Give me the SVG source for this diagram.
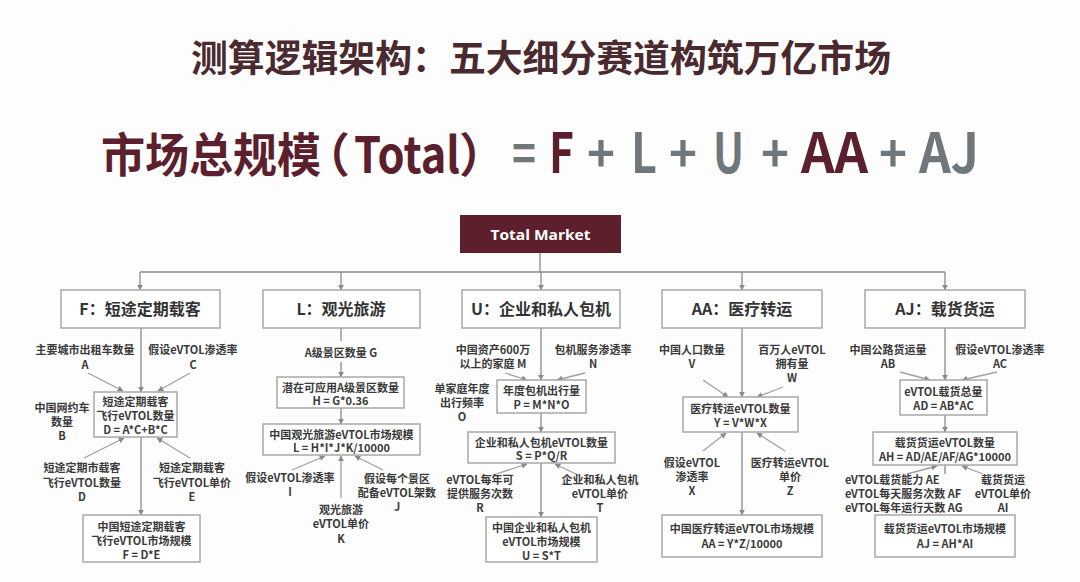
<svg xmlns="http://www.w3.org/2000/svg" width="1080" height="582" viewBox="0 0 1080 582">
<defs>
<marker id="ah" viewBox="0 0 10 10" refX="9" refY="5" markerWidth="6" markerHeight="6" orient="auto" markerUnits="userSpaceOnUse">
<path d="M0,0 L10,5 L0,10 z" fill="#8a8a8a"/>
</marker>
<style>
.bx{fill:#ffffff;stroke:#a8a8a8;stroke-width:1.5}
.ln{stroke:#8a8a8a;stroke-width:1.3;fill:none}
.la{stroke:#a0a0a0;stroke-width:1.3;fill:none}
.t{font-family:"Noto Sans CJK SC","Noto Sans",sans-serif;font-weight:bold;font-size:11px;fill:#3a3a3a;text-anchor:middle}
.ts{text-anchor:start}
.h{font-family:"Noto Sans CJK SC","Noto Sans",sans-serif;font-weight:bold;font-size:16px;fill:#333;text-anchor:middle}
.big{font-family:"Noto Sans CJK SC","Noto Sans",sans-serif;font-weight:bold}
.mr{fill:#5c1f2d}
.gr{fill:#6f777b}
</style>
</defs>
<rect width="1080" height="582" fill="#fdfdfd"/>

<g id="title">
<text x="541" y="72" class="big" font-size="37" fill="#4a2a2e" text-anchor="middle" textLength="700" lengthAdjust="spacingAndGlyphs">测算逻辑架构：五大细分赛道构筑万亿市场</text>
</g>

<g id="formula">
<text y="172" class="big mr" font-size="47"><tspan x="101" textLength="220" lengthAdjust="spacingAndGlyphs">市场总规模</tspan><tspan x="303">（</tspan><tspan x="354" y="173" font-size="50" textLength="106" lengthAdjust="spacingAndGlyphs">Total</tspan><tspan x="459" y="172">）</tspan></text>
<text x="512" y="172" class="big gr" font-size="50" textLength="24" lengthAdjust="spacingAndGlyphs">=</text>
<text x="549" y="173" class="big mr" font-size="55" textLength="25" lengthAdjust="spacingAndGlyphs">F</text>
<text x="587" y="172" class="big gr" font-size="50" textLength="28" lengthAdjust="spacingAndGlyphs">+</text>
<text x="631" y="173" class="big gr" font-size="55" textLength="26" lengthAdjust="spacingAndGlyphs">L</text>
<text x="669" y="172" class="big gr" font-size="50" textLength="28" lengthAdjust="spacingAndGlyphs">+</text>
<text x="713" y="173" class="big gr" font-size="55" textLength="31" lengthAdjust="spacingAndGlyphs">U</text>
<text x="761" y="172" class="big gr" font-size="50" textLength="28" lengthAdjust="spacingAndGlyphs">+</text>
<text x="801" y="173" class="big mr" font-size="55" textLength="67" lengthAdjust="spacingAndGlyphs">AA</text>
<text x="879" y="172" class="big gr" font-size="50" textLength="28" lengthAdjust="spacingAndGlyphs">+</text>
<text x="919" y="173" class="big gr" font-size="55" textLength="60" lengthAdjust="spacingAndGlyphs">AJ</text>
</g>

<g id="connectors">
<path class="ln" d="M540,253 V272 M140,272 H945"/>
<path class="ln" marker-end="url(#ah)" d="M140,272 V290"/>
<path class="ln" marker-end="url(#ah)" d="M341,272 V290"/>
<path class="ln" marker-end="url(#ah)" d="M541,272 V290"/>
<path class="ln" marker-end="url(#ah)" d="M742,272 V290"/>
<path class="ln" marker-end="url(#ah)" d="M945,272 V290"/>
<!-- F -->
<path class="ln" marker-end="url(#ah)" d="M141,328 V392"/>
<path class="la" marker-end="url(#ah)" d="M88,373 L123,391"/>
<path class="la" marker-end="url(#ah)" d="M190,373 L158,391"/>
<path class="la" marker-end="url(#ah)" d="M84,458 L124,438"/>
<path class="la" marker-end="url(#ah)" d="M190,458 L157,438"/>
<path class="ln" marker-end="url(#ah)" d="M141,437 V515"/>
<!-- L -->
<path class="ln" d="M341,328 V341"/>
<path class="ln" marker-end="url(#ah)" d="M341,362 V377"/>
<path class="ln" marker-end="url(#ah)" d="M341,408 V424"/>
<path class="la" marker-end="url(#ah)" d="M292,470 L325,456"/>
<path class="la" marker-end="url(#ah)" d="M341,498 V456"/>
<path class="la" marker-end="url(#ah)" d="M383,470 L355,456"/>
<!-- U -->
<path class="ln" marker-end="url(#ah)" d="M541,328 V380"/>
<path class="la" marker-end="url(#ah)" d="M505,373 L527,380"/>
<path class="la" marker-end="url(#ah)" d="M585,373 L557,380"/>
<path class="ln" marker-end="url(#ah)" d="M541,413 V432"/>
<path class="la" marker-end="url(#ah)" d="M490,476 L527,464"/>
<path class="la" marker-end="url(#ah)" d="M580,476 L555,464"/>
<path class="ln" marker-end="url(#ah)" d="M541,463 V517"/>
<!-- AA -->
<path class="ln" marker-end="url(#ah)" d="M742,328 V397"/>
<path class="la" marker-end="url(#ah)" d="M703,380 L728,397"/>
<path class="la" marker-end="url(#ah)" d="M783,387 L757,397"/>
<path class="la" marker-end="url(#ah)" d="M703,451 L726,433"/>
<path class="la" marker-end="url(#ah)" d="M785,451 L757,433"/>
<path class="ln" marker-end="url(#ah)" d="M742,432 V515"/>
<!-- AJ -->
<path class="ln" marker-end="url(#ah)" d="M945,328 V380"/>
<path class="la" marker-end="url(#ah)" d="M900,372 L930,380"/>
<path class="la" marker-end="url(#ah)" d="M997,372 L962,380"/>
<path class="ln" marker-end="url(#ah)" d="M945,415 V432"/>
<path class="la" marker-end="url(#ah)" d="M907,474 L937,466"/>
<path class="la" marker-end="url(#ah)" d="M983,474 L962,466"/>
<path class="ln" d="M945,465 V474"/>
</g>

<g id="total">
<rect x="460" y="215" width="161" height="38" fill="#5e1f2c"/>
<text x="540.5" y="240" font-family="'Open Sans','Noto Sans',sans-serif" font-weight="bold" font-size="15" fill="#ffffff" text-anchor="middle" textLength="100" lengthAdjust="spacingAndGlyphs">Total Market</text>
</g>

<g id="col-F">
<rect class="bx" x="61" y="290" width="159" height="38"/>
<text class="h" x="140" y="315">F：短途定期载客</text>
<text class="t" x="85" y="354">主要城市出租车数量</text>
<text class="t" x="85" y="369">A</text>
<text class="t" x="193" y="354">假设eVTOL渗透率</text>
<text class="t" x="193" y="369">C</text>
<rect class="bx" x="94" y="392" width="83" height="45"/>
<text class="t" x="135.5" y="406">短途定期载客</text>
<text class="t" x="135.5" y="420">飞行eVTOL数量</text>
<text class="t" x="135.5" y="434">D = A*C+B*C</text>
<text class="t" x="62" y="412">中国网约车</text>
<text class="t" x="62" y="426">数量</text>
<text class="t" x="62" y="440">B</text>
<text class="t" x="82" y="472">短途定期市载客</text>
<text class="t" x="82" y="487">飞行eVTOL数量</text>
<text class="t" x="82" y="501">D</text>
<text class="t" x="192" y="472">短途定期载客</text>
<text class="t" x="192" y="487">飞行eVTOL单价</text>
<text class="t" x="192" y="501">E</text>
<rect class="bx" x="83" y="515" width="117" height="47"/>
<text class="t" x="141.5" y="531">中国短途定期载客</text>
<text class="t" x="141.5" y="545">飞行eVTOL市场规模</text>
<text class="t" x="141.5" y="559">F = D*E</text>
</g>

<g id="col-L">
<rect class="bx" x="263" y="290" width="157" height="38"/>
<text class="h" x="341" y="315">L：观光旅游</text>
<text class="t" x="341" y="357">A级景区数量 G</text>
<rect class="bx" x="277" y="377" width="127" height="31"/>
<text class="t" x="340.5" y="392">潜在可应用A级景区数量</text>
<text class="t" x="340.5" y="405">H = G*0.36</text>
<rect class="bx" x="263" y="424" width="157" height="31"/>
<text class="t" x="341.5" y="439">中国观光旅游eVTOL市场规模</text>
<text class="t" x="341.5" y="452">L = H*I*J*K/10000</text>
<text class="t" x="290" y="482">假设eVTOL渗透率</text>
<text class="t" x="290" y="496">I</text>
<text class="t" x="397" y="483">假设每个景区</text>
<text class="t" x="397" y="497">配备eVTOL架数</text>
<text class="t" x="397" y="511">J</text>
<text class="t" x="341" y="514">观光旅游</text>
<text class="t" x="341" y="528">eVTOL单价</text>
<text class="t" x="341" y="543">K</text>
</g>

<g id="col-U">
<rect class="bx" x="462" y="290" width="158" height="38"/>
<text class="h" x="541" y="315">U：企业和私人包机</text>
<text class="t" x="493" y="354">中国资产600万</text>
<text class="t" x="493" y="368">以上的家庭 M</text>
<text class="t" x="593" y="354">包机服务渗透率</text>
<text class="t" x="593" y="368">N</text>
<rect class="bx" x="497" y="380" width="89" height="33"/>
<text class="t" x="541.5" y="395">年度包机出行量</text>
<text class="t" x="541.5" y="409">P = M*N*O</text>
<text class="t" x="462" y="393">单家庭年度</text>
<text class="t" x="462" y="407">出行频率</text>
<text class="t" x="462" y="421">O</text>
<rect class="bx" x="468" y="432" width="147" height="31"/>
<text class="t" x="541.5" y="447">企业和私人包机eVTOL数量</text>
<text class="t" x="541.5" y="460">S = P*Q/R</text>
<text class="t" x="480" y="484">eVTOL每年可</text>
<text class="t" x="480" y="498">提供服务次数</text>
<text class="t" x="480" y="512">R</text>
<text class="t" x="600" y="484">企业和私人包机</text>
<text class="t" x="600" y="498">eVTOL单价</text>
<text class="t" x="600" y="512">T</text>
<rect class="bx" x="486" y="517" width="111" height="45"/>
<text class="t" x="541.5" y="532">中国企业和私人包机</text>
<text class="t" x="541.5" y="546">eVTOL市场规模</text>
<text class="t" x="541.5" y="560">U = S*T</text>
</g>

<g id="col-AA">
<rect class="bx" x="662" y="290" width="160" height="38"/>
<text class="h" x="742" y="315">AA：医疗转运</text>
<text class="t" x="692" y="354">中国人口数量</text>
<text class="t" x="692" y="368">V</text>
<text class="t" x="792" y="354">百万人eVTOL</text>
<text class="t" x="792" y="368">拥有量</text>
<text class="t" x="792" y="382">W</text>
<rect class="bx" x="683" y="397" width="115" height="35"/>
<text class="t" x="740.5" y="413">医疗转运eVTOL数量</text>
<text class="t" x="740.5" y="427">Y = V*W*X</text>
<text class="t" x="692" y="467">假设eVTOL</text>
<text class="t" x="692" y="481">渗透率</text>
<text class="t" x="692" y="495">X</text>
<text class="t" x="790" y="467">医疗转运eVTOL</text>
<text class="t" x="790" y="481">单价</text>
<text class="t" x="790" y="495">Z</text>
<rect class="bx" x="662" y="515" width="160" height="42"/>
<text class="t" x="742" y="533">中国医疗转运eVTOL市场规模</text>
<text class="t" x="742" y="548">AA = Y*Z/10000</text>
</g>

<g id="col-AJ">
<rect class="bx" x="865" y="290" width="160" height="38"/>
<text class="h" x="945" y="315">AJ：载货货运</text>
<text class="t" x="888" y="354">中国公路货运量</text>
<text class="t" x="888" y="368">AB</text>
<text class="t" x="1000" y="354">假设eVTOL渗透率</text>
<text class="t" x="1000" y="368">AC</text>
<rect class="bx" x="900" y="380" width="87" height="35"/>
<text class="t" x="943.5" y="396">eVTOL载货总量</text>
<text class="t" x="943.5" y="410">AD = AB*AC</text>
<rect class="bx" x="873" y="432" width="144" height="33"/>
<text class="t" x="945" y="447">载货货运eVTOL数量</text>
<text class="t" x="945" y="461">AH = AD/AE/AF/AG*10000</text>
<text class="t ts" x="845" y="484">eVTOL载货能力 AE</text>
<text class="t ts" x="845" y="498">eVTOL每天服务次数 AF</text>
<text class="t ts" x="845" y="512">eVTOL每年运行天数 AG</text>
<text class="t" x="1003" y="484">载货货运</text>
<text class="t" x="1003" y="498">eVTOL单价</text>
<text class="t" x="1003" y="512">AI</text>
<rect class="bx" x="875" y="515" width="140" height="42"/>
<text class="t" x="945" y="533">载货货运eVTOL市场规模</text>
<text class="t" x="945" y="548">AJ = AH*AI</text>
</g>
</svg>
